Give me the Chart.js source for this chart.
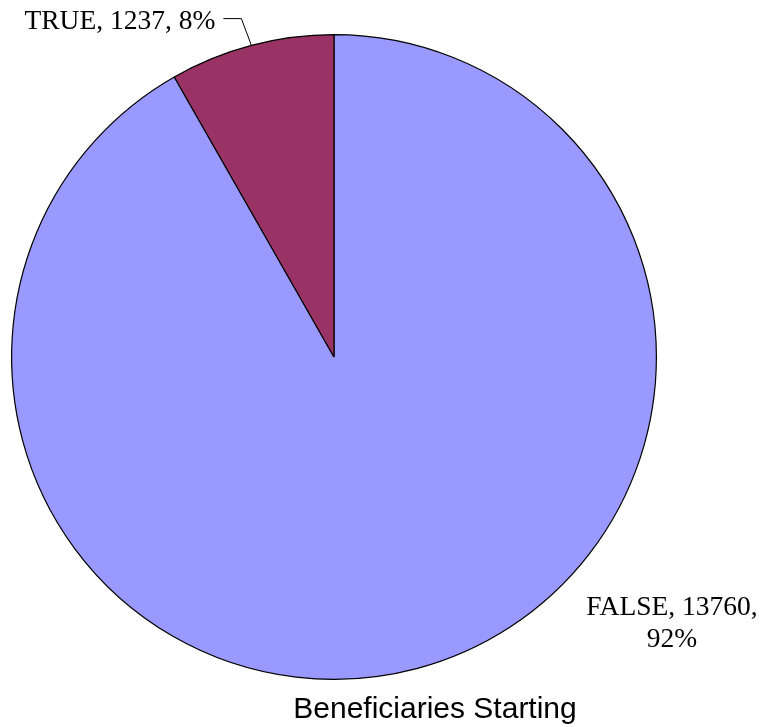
<!DOCTYPE html>
<html>
<head>
<meta charset="utf-8">
<script src="https://cdn.jsdelivr.net/npm/chart.js@4"></script>
<style>
html,body{margin:0;padding:0;background:#fff;}
#wrap{width:763px;height:727px;position:relative;}
</style>
</head>
<body>
<div id="wrap"><canvas id="c" width="763" height="727"></canvas></div>
<script>
const categories = ["FALSE", "TRUE"];
const values = [13760, 1237];
const percents = ["92%", "8%"];
const colors = ["#9999FF", "#993366"];
const chartTitle = "Beneficiaries Starting";

const labelPlugin = {
  id: 'labelPlugin',
  afterDraw(chart) {
    const ctx = chart.ctx;
    const meta = chart.getDatasetMeta(0);
    const a1 = meta.data[1];
    const cx = a1.x, cy = a1.y, r = a1.outerRadius;
    ctx.save();
    ctx.fillStyle = '#000';
    ctx.font = '27.5px "Liberation Serif", "Times New Roman", serif';
    // TRUE label with leader line
    const mid = (a1.startAngle + a1.endAngle) / 2;
    const ex = cx + Math.cos(mid) * r, ey = cy + Math.sin(mid) * r;
    ctx.strokeStyle = '#000';
    ctx.lineWidth = 1;
    ctx.beginPath();
    ctx.moveTo(ex, ey);
    ctx.lineTo(ex - 10, cy - r - 16);
    ctx.lineTo(ex - 28, cy - r - 16);
    ctx.stroke();
    ctx.textAlign = 'right';
    ctx.textBaseline = 'alphabetic';
    ctx.fillText(categories[1] + ', ' + values[1] + ', ' + percents[1], ex - 36, cy - r - 6);
    // FALSE label
    ctx.textAlign = 'center';
    ctx.fillText(categories[0] + ', ' + values[0] + ',', cx + 338, cy + 258);
    ctx.fillText(percents[0], cx + 338, cy + 290);
    // title
    ctx.font = '30px "Liberation Sans", Arial, sans-serif';
    ctx.fillText(chartTitle, cx + 101, cy + 361);
    ctx.restore();
  }
};

new Chart(document.getElementById('c'), {
  type: 'pie',
  data: {
    labels: categories,
    datasets: [{
      data: values,
      backgroundColor: colors,
      borderColor: '#000',
      borderWidth: 1.2,
      borderAlign: 'center'
    }]
  },
  options: {
    responsive: false,
    animation: false,
    layout: { padding: { left: 11, top: 34, right: 106, bottom: 47 } },
    plugins: {
      legend: { display: false },
      title: { display: false },
      tooltip: { enabled: false }
    }
  },
  plugins: [labelPlugin]
});
</script>
</body>
</html>
